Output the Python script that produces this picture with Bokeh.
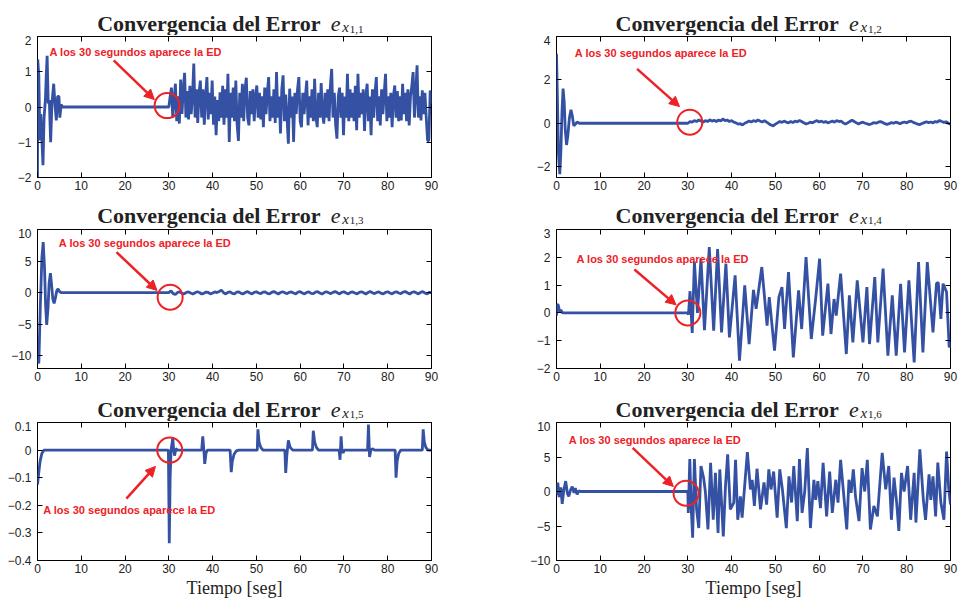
import numpy as np
from bokeh.plotting import figure
from bokeh.models import (Range1d, FixedTicker, LinearAxis, Label, Arrow, NormalHead,
                          CustomJSTickFormatter)
from bokeh.layouts import column, row
from bokeh.embed import file_html
from bokeh.resources import INLINE

# ---------------- data ----------------
x_ticks = [0, 10, 20, 30, 40, 50, 60, 70, 80, 90]

# e_{x1,1}
e11_t_ini = [0, 0.05, 0.3, 0.55, 0.75, 1.0, 1.25, 1.5, 1.8, 2.0, 2.2, 2.45, 2.7, 3.0, 3.3,
             3.7, 4.0, 4.3, 4.6, 4.9, 5.1, 5.4, 5.7, 29.9]
e11_v_ini = [-2.0, 1.35, 0.9, -0.95, -0.2, -0.9, -1.65, -0.3, 0.2, 0.9, 1.45, 0.1, 0.2, -1.0, 0.1,
             0.66, 0.05, -0.38, 0.3, 0.3, -0.3, 0.07, 0.0, 0.0]
e11_v_ed = [0.0, 0.3, 0.55, -0.3, 0.2, 0.66, -0.4, 0.3, -0.47, 0.78,
            -0.2, 0.5, 0.97, -0.3, 0.45, -0.35, 0.6, -0.2, 0.3, 1.23,
            -0.3, 0.5, -0.45, 0.4, 0.75, -0.3, 0.5, -0.5, 0.3, 0.85,
            -0.35, 0.4, -0.2, 0.75, -0.5, 0.3, -0.8, 0.2, -0.4, 0.42,
            -0.3, 0.6, -0.5, 0.5, -0.3, 0.94, -0.99, 0.4, -0.3, 0.55,
            -0.4, 0.75, -0.5, -0.96, 0.4, -0.3, 0.66, -0.4, 0.5, 0.83,
            -0.3, -0.52, 0.45, -0.2, 0.5, -0.4, 0.3, 0.61, -0.3, 0.4,
            -0.35, 0.3, -0.57, 0.55, -0.2, 0.4, 0.85, -0.4, 0.3, -0.3,
            0.5, -0.45, 0.99, -0.3, 0.3, -0.75, 0.5, 0.9, -0.4, 0.35,
            -0.3, -1.04, 0.52, -0.3, 0.3, -0.99, 0.4, -0.2, 0.5, 0.85,
            -0.4, -0.57, 0.4, -0.2, 0.3, 0.75, -0.52, 0.3, -0.3, 0.5,
            -0.4, 0.8, -0.3, -0.57, 0.4, -0.3, 0.68, -0.2, -0.47, 0.4,
            -0.3, 0.5, -0.4, 0.6, 1.08, -0.3, 0.4, -0.5, -0.9, 0.3,
            0.55, -0.3, 0.4, -0.8, 0.3, -0.3, 0.94, -0.4, 0.5, -0.3,
            0.4, -0.4, 0.6, -0.66, 0.94, -0.3, 0.4, -0.2, 0.5, -0.68,
            0.3, 0.66, -0.4, 0.3, -0.8, 0.5, -0.3, 0.4, 0.85, -0.4,
            0.3, -0.52, 0.5, -0.2, 0.4, 0.94, -0.4, 0.3, -0.3, 0.4,
            -0.57, 0.3, 0.61, -0.3, 0.45, -0.4, 0.3, -0.38, 0.66, -0.2,
            0.4, -0.4, 0.5, -0.52, 0.3, 0.6, 0.99, -0.3, 0.4, 1.18,
            -0.3, 0.3, -0.38, 0.47, -0.2, 0.4, -0.3, -0.95, -0.95, 0.47,
            0.1]

# e_{x1,2}
e12_t_ini = [0, 0.2, 0.45, 0.75, 1.0, 1.25, 1.5, 1.75, 2.0, 2.3, 2.6, 2.95, 3.3, 3.6, 3.95,
             4.3, 4.7, 5.2, 29.9]
e12_v_ini = [3.2, 1.2, -1.4, -2.35, -1.3, 0.5, 1.6, 1.0, -0.3, -1.0, -0.55, 0.25, 0.62, 0.35, -0.12,
             -0.05, 0.06, 0.0, 0.0]
e12_v_ed = [0.0, 0.08, 0.05, 0.12, 0.08, 0.15, 0.1, 0.05, 0.12, 0.08,
            0.16, 0.1, 0.14, 0.08, 0.15, 0.1, 0.2, 0.12, 0.15, 0.08,
            0.12, 0.05, 0.02, -0.04, -0.02, -0.08, 0.0, 0.05, 0.1, 0.06,
            0.12, 0.08, 0.15, 0.1, 0.06, 0.12, 0.05, -0.02, -0.08, -0.12,
            -0.04, 0.02, 0.08, 0.04, 0.1, 0.05, 0.02, 0.08, 0.03, 0.1,
            0.06, 0.13, 0.08, 0.02, -0.03, 0.0, 0.05, 0.02, 0.08, 0.12,
            0.06, 0.1, 0.04, 0.08, 0.02, 0.06, 0.1, 0.05, 0.12, 0.08,
            0.1, 0.02, -0.04, 0.02, 0.08, 0.14, 0.08, 0.02, -0.03, 0.02,
            0.05, 0.0, -0.03, -0.06, -0.02, 0.03, 0.0, 0.05, 0.08, 0.03,
            -0.02, -0.05, -0.02, 0.03, 0.0, 0.05, 0.02, -0.02, 0.03, 0.06,
            0.02, 0.08, 0.1, 0.04, 0.0, -0.04, -0.06, -0.01, 0.03, 0.07,
            0.03, 0.06, 0.02, 0.08, 0.05, 0.13, 0.08, 0.04, 0.07, 0.0,
            -0.05]

# e_{x1,3}
e13_t_ini = [0, 0.3, 0.65, 1.0, 1.3, 1.6, 1.85, 2.1, 2.4, 2.65, 2.95, 3.25, 3.5, 3.8, 4.1,
             4.4, 4.7, 5.0, 5.5, 29.9]
e13_v_ini = [-10.5, -11.2, -2.0, 5.5, 8.0, 4.0, -2.0, -5.1, -2.5, 1.5, 3.1, 1.0, -1.0, -1.7, -0.8,
             0.3, 0.6, 0.2, 0.0, 0.0]
e13_v_ed = [0.0, 0.3, -0.15, -0.3, 0.05, 0.12, -0.1, -0.2, 0.05, 0.12,
            -0.05, -0.2, 0.0, 0.15, 0.02, -0.2, -0.1, 0.1, 0.05, -0.2,
            -0.05, 0.12, 0.02, 0.2, 0.4, 0.0, -0.2, 0.05, 0.12, -0.12,
            -0.2, 0.1, 0.12, -0.1, -0.2, 0.05, 0.18, -0.05, -0.2, 0.05,
            0.15, -0.05, -0.15, 0.1, 0.12, -0.1, -0.2, 0.05, 0.18, -0.02,
            -0.2, 0.02, 0.15, 0.0, -0.15, 0.05, 0.12, -0.05, -0.2, 0.1,
            0.15, -0.05, -0.2, 0.05, 0.12, -0.1, -0.15, 0.1, 0.15, -0.05,
            -0.22, 0.02, 0.15, 0.0, -0.15, 0.05, 0.18, -0.02, -0.2, 0.05,
            0.15, -0.05, -0.2, 0.05, 0.12, -0.05, -0.2, 0.05, 0.15, -0.02,
            -0.2, 0.02, 0.18, 0.0, -0.15, 0.05, 0.12, -0.1, -0.2, 0.05,
            0.15, -0.05, -0.2, 0.05, 0.15, -0.05, -0.15, 0.1, 0.18, -0.02,
            -0.2, 0.02, 0.15, -0.02, -0.2, 0.05, 0.18, -0.05, -0.2, 0.05,
            0.0]

# e_{x1,4}
e14_t = [0, 0.15, 0.4, 0.7, 1.0, 1.4, 2.0,
         29.9, 30.15, 30.5, 31.0, 31.5, 32.2, 33.0, 33.8,
         34.9, 35.9, 36.8, 37.7, 38.7, 39.5, 40.8, 41.8,
         43.0, 44.0, 45.0, 45.6, 46.9, 48.1, 48.6, 49.8,
         50.8, 51.5, 52.1, 53.0, 54.1, 55.3, 56.0, 57.0,
         58.2, 59.2, 60.1, 60.8, 62.0, 62.7, 63.4, 63.9,
         64.9, 66.2, 66.9, 67.7, 68.7, 70.0, 70.9, 71.5,
         72.7, 73.4, 74.6, 75.7, 76.7, 77.6, 78.6, 79.5,
         80.5, 81.7, 82.7, 83.7, 84.7, 86.0, 86.8, 87.2,
         87.8, 88.3, 89.1, 89.7, 90.0]
e14_v = [-0.1, 0.3, 0.28, 0.05, 0.1, 0.0, 0.0,
         0.0, -0.05, 0.78, -0.72, 1.85, 0.0, 1.95, -0.62,
         2.37, -0.64, 2.3, -0.7, 1.77, -0.88, 1.35, -1.72,
         0.99, -1.12, 0.83, 0.15, 1.65, -0.46, 0.57, -1.36,
         0.57, 0.93, -0.58, 1.47, -1.6, 0.81, -0.58, 2.01,
         -0.94, 0.51, 1.95, -0.82, 1.05, -0.76, 0.5, -0.1,
         1.41, -1.48, 0.63, -1.06, 1.17, -1.06, 0.93, -1.12,
         1.29, -1.06, 1.59, -1.54, 0.63, -1.54, 1.05, -1.42,
         1.17, -1.78, 1.83, -1.42, 1.83, -0.7, 1.05, 1.1,
         -0.22, 1.05, 0.75, -1.24, -1.06]

# e_{x1,5}
e15_t = [0, 0.3, 0.6, 1.0, 1.5, 2.0,
         29.9, 30.1, 30.3, 30.5, 30.7, 30.9, 31.1, 31.3, 31.6, 32.0,
         37.5, 37.75, 38.0, 38.2, 38.5, 38.8,
         44.0, 44.25, 44.5, 44.9, 45.4, 46.0,
         50.2, 50.35, 50.6, 51.0, 51.5,
         56.5, 56.7, 56.95, 57.3, 57.7, 58.3,
         62.8, 63.0, 63.3, 63.7, 64.2,
         68.9, 69.1, 69.35, 69.55, 69.8, 70.1, 70.6,
         75.4, 75.6, 75.85, 76.15, 76.5, 77.0,
         81.7, 81.9, 82.15, 82.5, 83.0,
         87.9, 88.1, 88.35, 88.7, 89.2, 90.0]
e15_v = [-0.125, -0.08, -0.04, -0.012, 0.0, 0.0,
         0.0, -0.337, -0.1, 0.0, 0.02, 0.045, 0.0, -0.02, 0.005, 0.0,
         0.0, 0.05, 0.0, -0.05, -0.01, 0.0,
         0.0, -0.08, -0.04, -0.015, -0.003, 0.0,
         0.0, 0.075, 0.03, 0.01, 0.0,
         0.0, -0.083, -0.02, 0.035, 0.01, 0.0,
         0.0, 0.07, 0.03, 0.01, 0.0,
         0.0, -0.035, 0.05, 0.0, -0.01, 0.0, 0.0,
         0.0, 0.093, -0.025, 0.0, 0.005, 0.0,
         0.0, -0.1, -0.04, -0.012, 0.0,
         0.0, 0.075, 0.03, 0.01, 0.0, 0.0]

# e_{x1,6}
e16_t = [0, 0.3, 0.6, 1.0, 1.3, 1.7, 2.1, 2.5, 2.8, 3.2, 3.6, 4.0, 4.3, 4.7, 5.1, 5.5, 29.9,
         30.0, 30.1, 30.45, 30.75, 31.1, 31.5, 32.0, 32.5, 33.0, 33.6, 34.0, 34.6, 35.2, 35.8,
         36.3, 36.9, 37.3, 38.1, 38.6, 39.1, 39.7, 40.5, 40.9, 41.4, 42.0, 42.4, 43.6, 44.3,
         44.7, 45.2, 45.8, 46.6, 47.4, 48.0, 48.5, 49.0, 49.6, 50.4, 51.0, 51.6, 52.5, 53.1,
         53.7, 54.2, 55.0, 55.5, 56.1, 56.7, 57.3, 58.0, 58.8, 59.2, 59.7, 60.3, 60.9, 61.7,
         62.4, 63.0, 63.8, 64.3, 64.9, 65.6, 66.3, 66.8, 67.3, 67.8, 68.3, 69.1, 69.8, 70.4,
         71.0, 71.7, 72.5, 73.3, 74.4, 75.2, 75.9, 76.5, 77.1, 77.7, 78.2, 78.8, 79.4, 80.2,
         80.9, 81.7, 82.1, 83.0, 83.8, 84.3, 85.1, 85.5, 86.0, 86.6, 87.1, 87.8, 88.5, 89.1,
         89.6, 90.0]
e16_v = [-0.5, 1.3, -0.8, 0.6, -1.8, 0.3, 1.5, -0.3, -0.7, 0.2, 0.7, -0.2, 0.5, -0.4, 0.1, 0.0, 0.0,
         0.0, -3.1, 4.7, -2.1, -6.7, 4.7, -2.6, -5.3, 3.7, 2.0, 0.0, -5.5, 4.15, -4.1,
         2.7, -6.0, 3.2, -6.5, 0.8, 5.4, -2.6, -1.6, 4.6, -4.1, -0.7, -3.8, 5.7, 0.3,
         1.7, -2.1, 3.3, -2.6, 1.3, -1.9, 3.2, 0.3, 2.9, -3.8, 3.2, 0.3, -5.3, 2.2,
         -1.6, 3.7, -4.3, 4.7, -3.1, 0.0, 6.3, -5.3, 1.7, -1.2, 1.5, -2.4, 4.15, -3.6,
         2.9, -3.1, 1.7, -1.6, 4.6, -0.4, -5.5, 1.7, -0.2, 3.2, -0.7, -4.3, 3.4, 0.0,
         4.6, -5.5, -2.1, -3.6, 5.6, 0.3, 3.7, -4.1, 2.0, -1.6, -5.7, 2.7, 0.0, 3.7,
         -4.1, 2.7, -4.5, 6.1, -1.2, -4.1, 2.5, -1.2, 2.2, -3.6, 4.2, -1.6, -4.1, 5.8,
         0.3, -1.9]

y_ticks = {
    1: [-2, -1, 0, 1, 2],
    2: [-2, 0, 2, 4],
    3: [-10, -5, 0, 5, 10],
    4: [-2, -1, 0, 1, 2, 3],
    5: [-0.4, -0.3, -0.2, -0.1, 0, 0.1],
    6: [-10, -5, 0, 5, 10],
}
y_limits = {1: (-2, 2), 2: (-2.5, 4), 3: (-12, 10), 4: (-2, 3), 5: (-0.4, 0.1), 6: (-10, 10)}
subscripts = {1: "1,1", 2: "1,2", 3: "1,3", 4: "1,4", 5: "1,5", 6: "1,6"}

annot_text = "A los 30 segundos aparece la ED"
title_text = "Convergencia del Error"
xlabel_text = "Tiempo [seg]"

# ---------------- styling / layout constants ----------------
BLUE = "#3451a3"
RED = "#ec2227"
INK = "#222222"
PANEL_TOP = 1
# (strip height, frame height, bottom border)
ROWS = [(35, 141, 17), (34, 139, 17), (36, 138, 40)]
TITLE_BASE = [23.3, 21.0, 24.2]                        # baseline below strip top
TITLE_X = [96.7, 615.0]

ANN = {
    1: dict(tx=2.74, ty=1.55, ax0=17.4, ay0=1.32, ax1=26.7, ay1=0.21, cx=29.6, cy=0.04),
    2: dict(tx=4.18, ty=3.22, ax0=18.4, ay0=2.51, ax1=28.1, ay1=0.77, cx=30.45, cy=0.05),
    3: dict(tx=4.87, ty=7.9, ax0=18.05, ay0=6.41, ax1=27.3, ay1=0.35, cx=30.3, cy=-0.72),
    4: dict(tx=4.57, ty=1.95, ax0=17.8, ay0=1.56, ax1=27.3, ay1=0.29, cx=30.0, cy=0.0),
    5: dict(tx=1.3, ty=-0.216, ax0=20.3, ay0=-0.176, ax1=26.95, ay1=-0.059, cx=30.2, cy=0.0),
    6: dict(tx=2.81, ty=7.49, ax0=17.4, ay0=6.33, ax1=26.7, ay1=0.72, cx=29.6, cy=-0.25),
}

series = {
    1: (np.concatenate([e11_t_ini, np.linspace(30, 90, len(e11_v_ed))]), np.concatenate([e11_v_ini, e11_v_ed])),
    2: (np.concatenate([e12_t_ini, np.linspace(30, 90, len(e12_v_ed))]), np.concatenate([e12_v_ini, e12_v_ed])),
    3: (np.concatenate([e13_t_ini, np.linspace(30, 90, len(e13_v_ed))]), np.concatenate([e13_v_ini, e13_v_ed])),
    4: (np.array(e14_t), np.array(e14_v)),
    5: (np.array(e15_t), np.array(e15_v)),
    6: (np.array(e16_t), np.array(e16_v)),
}

MINUS_JS = "return (tick < 0 ? '\\u2212' : '') + Math.abs(tick).toString();"


def style_axis(ax, ticks, labels=True, standoff=4):
    ax.ticker = FixedTicker(ticks=ticks)
    ax.axis_line_color = None
    ax.major_tick_in = 5
    ax.major_tick_out = 0
    ax.major_tick_line_color = "black"
    ax.major_tick_line_width = 1
    ax.minor_tick_line_color = None
    ax.major_label_standoff = standoff
    ax.major_label_text_font = "Liberation Sans"
    ax.major_label_text_color = INK
    if labels:
        ax.major_label_text_font_size = "12px"
        ax.formatter = CustomJSTickFormatter(code=MINUS_JS)
    else:
        ax.major_label_text_font_size = "0px"
        ax.formatter = CustomJSTickFormatter(code="return '';")
        ax.major_label_standoff = 0


def make_strip(ri):
    h = ROWS[ri][0]
    s = figure(width=958, height=h, x_range=Range1d(0, 958), y_range=Range1d(0, h),
               x_axis_type=None, y_axis_type=None, min_border=0,
               toolbar_location=None, tools="", output_backend="svg")
    s.outline_line_color = None
    s.xgrid.visible = False
    s.ygrid.visible = False
    s.background_fill_color = "white"
    s.border_fill_color = "white"
    base = h - TITLE_BASE[ri]
    for col in range(2):
        k = ri * 2 + col + 1
        x0 = TITLE_X[col]
        s.add_layout(Label(x=x0, y=base, text=title_text,
                           text_font="Liberation Serif", text_font_style="bold", text_font_size="22px",
                           text_color=INK, text_baseline="alphabetic", text_align="left"))
        s.add_layout(Label(x=x0 + 233.5, y=base, text="e",
                           text_font="Liberation Serif", text_font_style="italic", text_font_size="22px",
                           text_color=INK, text_baseline="alphabetic", text_align="left"))
        s.add_layout(Label(x=x0 + 245, y=base - 3.4, text="x",
                           text_font="Liberation Serif", text_font_style="italic", text_font_size="15px",
                           text_color=INK, text_baseline="alphabetic", text_align="left"))
        s.add_layout(Label(x=x0 + 252.5, y=base - 5.2, text=subscripts[k],
                           text_font="Liberation Serif", text_font_style="normal", text_font_size="11px",
                           text_color=INK, text_baseline="alphabetic", text_align="left"))
    return s


def make_panel(k):
    col = (k - 1) % 2
    ri = (k - 1) // 2
    _, fh, bottom = ROWS[ri]
    ml, mr = (37, 48) if col == 0 else (77, 8)
    p = figure(frame_width=394, frame_height=fh, min_border_left=ml, min_border_right=mr,
               min_border_top=PANEL_TOP, min_border_bottom=bottom,
               x_range=Range1d(0, 90), y_range=Range1d(*y_limits[k]),
               toolbar_location=None, tools="", output_backend="svg")
    p.background_fill_color = "white"
    p.border_fill_color = "white"
    p.outline_line_color = "black"
    p.outline_line_width = 1
    p.outline_line_alpha = 1
    p.xgrid.visible = False
    p.ygrid.visible = False
    ax_bottom = p.below[0]
    ax_left = p.left[0]
    style_axis(ax_bottom, x_ticks, True, 3)
    style_axis(ax_left, y_ticks[k], True, 6)
    ax_top = LinearAxis()
    style_axis(ax_top, x_ticks, False)
    p.add_layout(ax_top, "above")
    ax_right = LinearAxis()
    style_axis(ax_right, y_ticks[k], False)
    p.add_layout(ax_right, "right")
    if ri == 2:
        ax_bottom.axis_label = xlabel_text
        ax_bottom.axis_label_text_font = "Liberation Serif"
        ax_bottom.axis_label_text_font_style = "normal"
        ax_bottom.axis_label_text_font_size = "18px"
        ax_bottom.axis_label_text_color = INK
        ax_bottom.axis_label_standoff = 2

    t, v = series[k]
    p.line(t, v, line_color=BLUE, line_width=2.8)

    a = ANN[k]
    p.scatter([a["cx"]], [a["cy"]], marker="circle", size=25, fill_color=None,
              line_color=RED, line_width=2)
    p.add_layout(Arrow(end=NormalHead(size=10, fill_color=RED, line_color=RED, line_width=1),
                       x_start=a["ax0"], y_start=a["ay0"], x_end=a["ax1"], y_end=a["ay1"],
                       line_color=RED, line_width=2.5))
    p.add_layout(Label(x=a["tx"], y=a["ty"], text=annot_text, text_font="Liberation Sans",
                       text_font_style="bold", text_font_size="11px", text_color=RED,
                       text_baseline="middle", text_align="left"))
    return p


panels = [make_panel(k) for k in range(1, 7)]
layout = column(
    make_strip(0), row(panels[0], panels[1]),
    make_strip(1), row(panels[2], panels[3]),
    make_strip(2), row(panels[4], panels[5]),
)

open("out.html", "w").write(file_html(layout, INLINE))
